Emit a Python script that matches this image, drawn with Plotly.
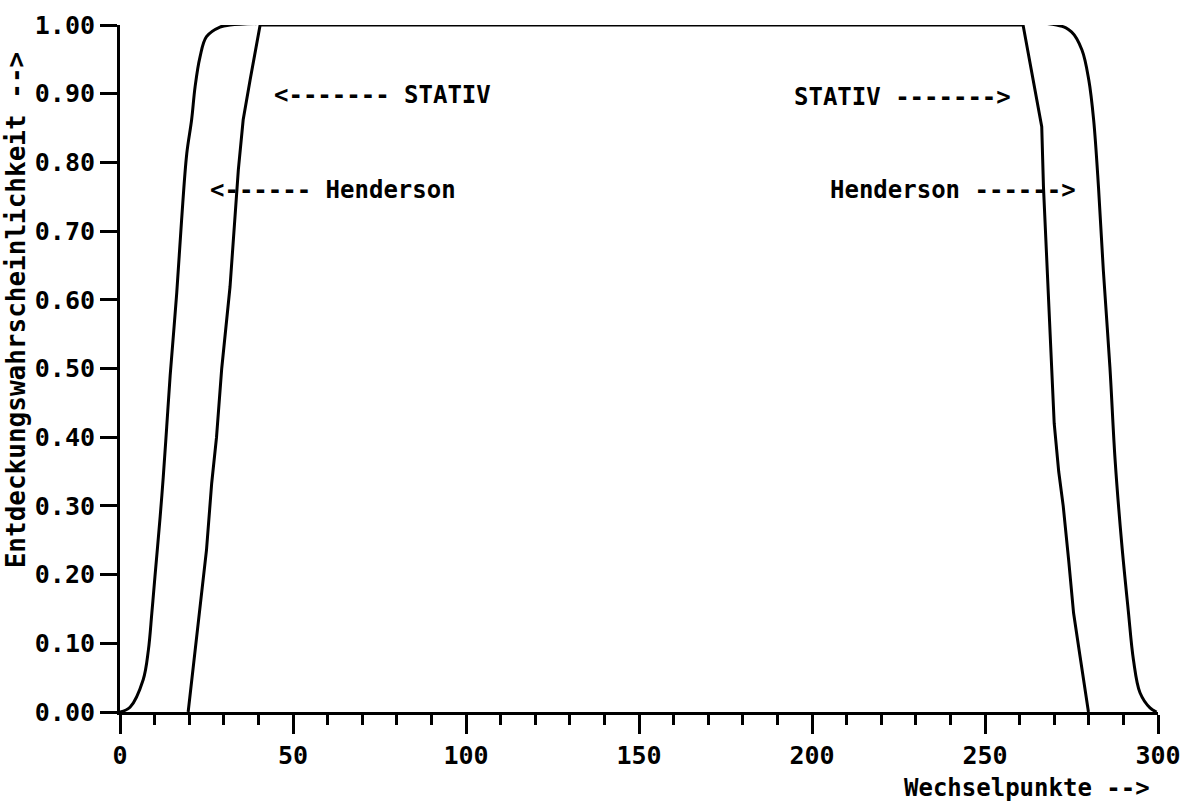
import plotly.graph_objects as go

# ---- data ----
stativ_x = [0, 2.9, 6.7, 8.2, 9.2, 10.1, 11.6, 12.5, 13.5, 14.5, 16.4, 17.8, 19.3, 20.7, 21.7,
            23.1, 25.0, 28.9, 31.8, 270.7, 275.0, 278.0, 280.0, 281.4, 282.8, 284.2, 286.1,
            287.6, 289.5, 291.4, 292.9, 294.8, 297.7, 299.6]
stativ_y = [0, 0.007, 0.047, 0.09, 0.144, 0.197, 0.284, 0.342, 0.415, 0.49, 0.61, 0.716, 0.813,
            0.862, 0.91, 0.953, 0.983, 0.997, 1.0, 1.0, 0.99, 0.964, 0.92, 0.862, 0.764, 0.643,
            0.502, 0.367, 0.246, 0.148, 0.076, 0.028, 0.006, 0.0]

henderson_x = [19.7, 22.6, 25.0, 26.5, 27.9, 29.4, 31.8, 34.2, 35.6, 37.6, 40.5, 261.0, 264.0,
               266.4, 266.9, 267.8, 269.3, 270.0, 271.3, 272.6, 274.2, 275.6, 277.5, 279.9]
henderson_y = [0, 0.13, 0.236, 0.333, 0.40, 0.50, 0.619, 0.789, 0.862, 0.92, 1.0, 1.0, 0.92,
               0.852, 0.764, 0.668, 0.502, 0.42, 0.35, 0.30, 0.22, 0.144, 0.08, 0.0]

x_ticks = [0, 50, 100, 150, 200, 250, 300]
y_ticks = [0.0, 0.1, 0.2, 0.3, 0.4, 0.5, 0.6, 0.7, 0.8, 0.9, 1.0]

x_title = "Wechselpunkte -->"
y_title = "Entdeckungswahrscheinlichkeit -->"

labels = [
    ("<------- STATIV", 43.9, 0.898, "left"),
    ("<------ Henderson", 25.4, 0.76, "left"),
    ("STATIV ------->", 258.1, 0.895, "right"),
    ("Henderson ------>", 276.9, 0.76, "right"),
]

FONT = "DejaVu Sans Mono"
BLACK = "#000000"

fig = go.Figure()
fig.add_trace(go.Scatter(x=stativ_x, y=stativ_y, mode="lines", name="STATIV",
                         line=dict(color=BLACK, width=3), line_shape="spline"))
fig.add_trace(go.Scatter(x=henderson_x, y=henderson_y, mode="lines", name="Henderson",
                         line=dict(color=BLACK, width=3)))

for text, x, y, anchor in labels:
    fig.add_annotation(x=x, y=y, xref="x", yref="y", text=text, showarrow=False,
                       xanchor=anchor, yanchor="middle",
                       font=dict(family=FONT, size=24, color=BLACK, weight="bold"))

fig.add_annotation(x=0.994, y=-0.1106, xref="paper", yref="paper", text=x_title,
                   showarrow=False, xanchor="right", yanchor="middle",
                   font=dict(family=FONT, size=24, color=BLACK, weight="bold"))
fig.add_annotation(x=-0.1, y=0.585, xref="paper", yref="paper", text=y_title,
                   showarrow=False, xanchor="center", yanchor="middle", textangle=-90,
                   font=dict(family=FONT, size=26, color=BLACK, weight="bold"))

fig.update_layout(
    width=1187, height=804,
    margin=dict(l=120, r=29, t=25, b=92, autoexpand=False),
    paper_bgcolor="white", plot_bgcolor="white",
    showlegend=False,
    font=dict(family=FONT, color=BLACK),
    xaxis=dict(range=[0, 300], tickvals=x_ticks, ticktext=[str(v) for v in x_ticks],
               automargin=False,
               showgrid=False, zeroline=False, showline=True, linecolor=BLACK, linewidth=3,
               ticks="outside", ticklen=19, tickwidth=3, tickcolor=BLACK,
               minor=dict(dtick=10, ticks="outside", ticklen=10, tickwidth=3, tickcolor=BLACK,
                          showgrid=False),
               tickfont=dict(family=FONT, size=25, color=BLACK, weight="bold")),
    yaxis=dict(range=[0, 1], tickvals=y_ticks, ticktext=[f"{v:.2f}" for v in y_ticks],
               automargin=False,
               showgrid=False, zeroline=False, showline=True, linecolor=BLACK, linewidth=3,
               ticks="outside", ticklen=17, tickwidth=3, tickcolor=BLACK,
               tickfont=dict(family=FONT, size=25, color=BLACK, weight="bold")),
)

fig.write_html("out.html")
